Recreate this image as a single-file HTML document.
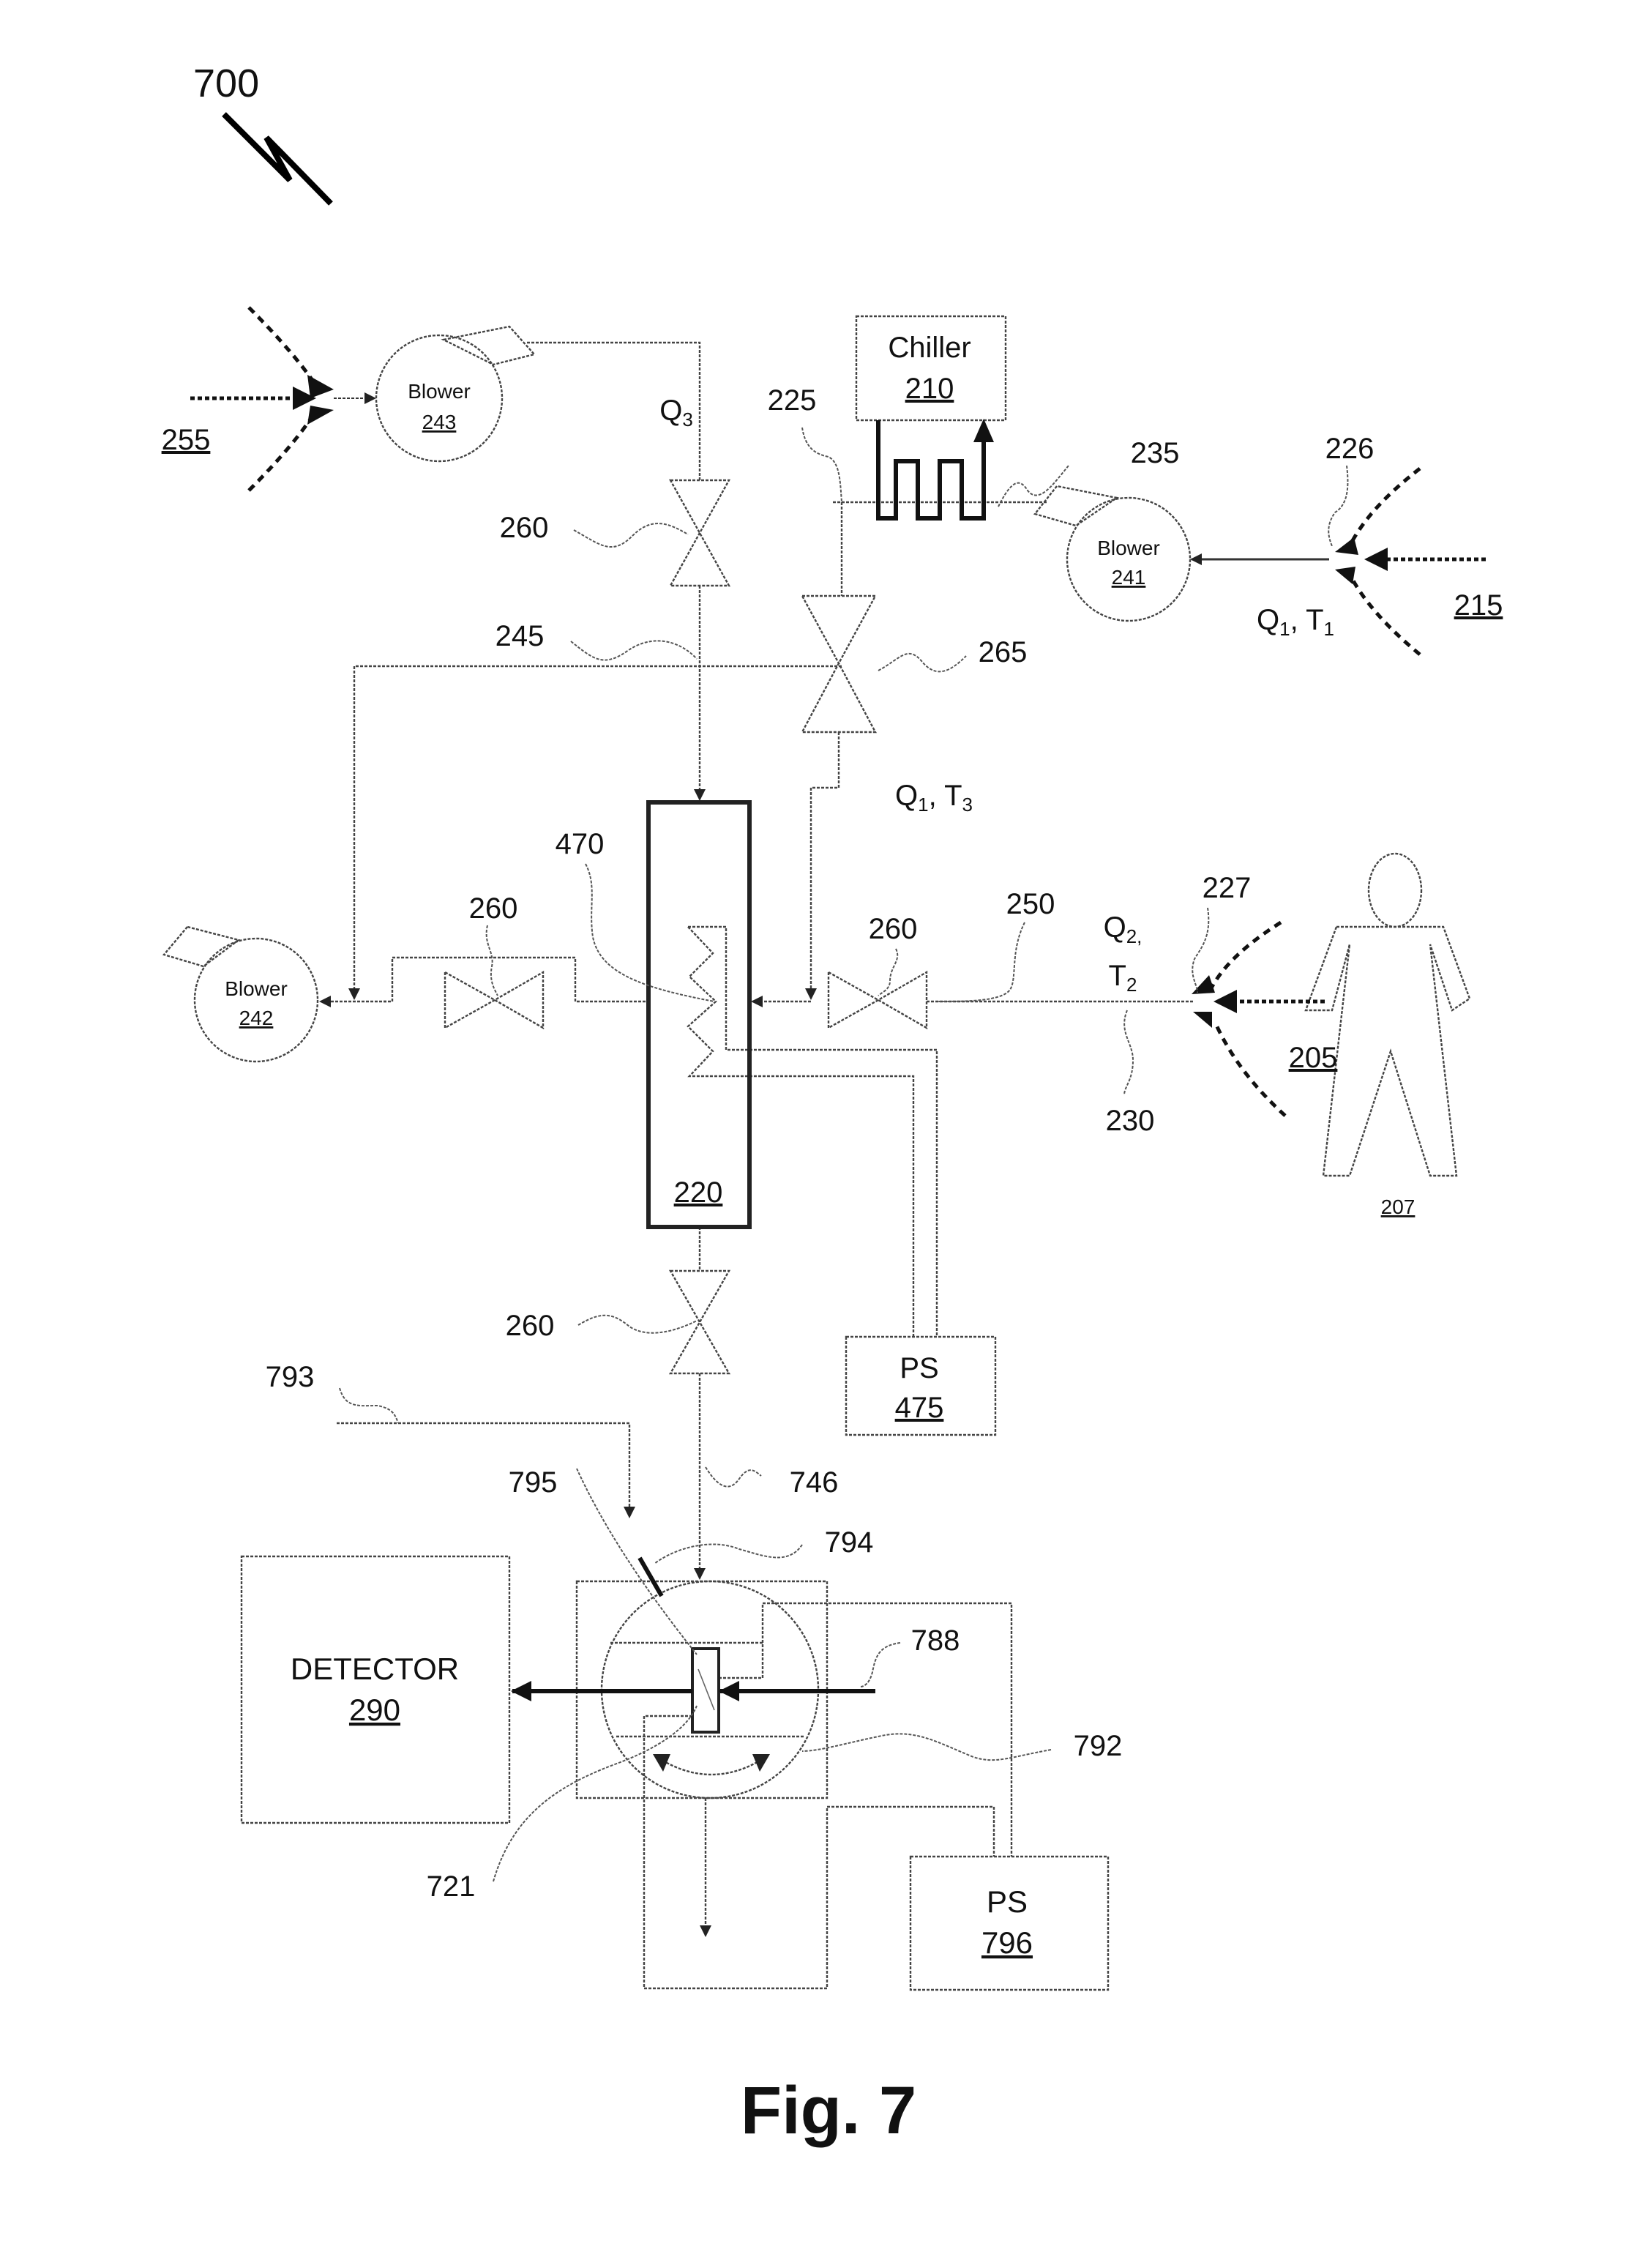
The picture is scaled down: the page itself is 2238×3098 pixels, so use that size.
<!DOCTYPE html>
<html><head><meta charset="utf-8"><style>
html,body{margin:0;padding:0;background:#fff;}
svg{display:block;}
text{font-family:"Liberation Sans",sans-serif;fill:#111;}
</style></head><body>
<svg width="2238" height="3098" viewBox="0 0 1119 1549" xmlns="http://www.w3.org/2000/svg">
<defs>
<marker id="a" markerWidth="8" markerHeight="8" refX="7" refY="4" orient="auto" markerUnits="userSpaceOnUse"><path d="M0,0 L8,4 L0,8 z" fill="#222"/></marker>
<marker id="b" markerWidth="14" markerHeight="14" refX="13" refY="7" orient="auto" markerUnits="userSpaceOnUse"><path d="M0,0 L14,7 L0,14 z" fill="#111"/></marker>
</defs>
<rect width="1119" height="1549" fill="#fff"/>

<text x="132" y="66" font-size="27">700</text>
<polyline points="153,78 198,123 182,94 226,139" fill="none" stroke="#000" stroke-width="4"/>

<g fill="none" stroke="#444" stroke-width="1.2" stroke-dasharray="2,1">
<circle cx="300" cy="272" r="43"/>
<polygon points="303,232 348,223 365,242 337,249"/>
<polyline points="360,234 478,234 478,328"/>
<polygon points="458,328 498,328 478,364 458,400 498,400 478,364"/>
<line x1="478" y1="400" x2="478" y2="546" marker-end="url(#a)"/>
<rect x="585" y="216" width="102" height="71"/>
<line x1="569" y1="343" x2="715" y2="343"/>
<line x1="575" y1="343" x2="575" y2="407"/>
<polygon points="548,407 598,407 573,453 548,500 598,500 573,453"/>
<polyline points="573,500 573,538 554,538 554,682" marker-end="url(#a)"/>
<line x1="554" y1="684" x2="514" y2="684" marker-end="url(#a)"/>
<circle cx="771" cy="382" r="42"/>
<polygon points="722,332 707,351 735,359 763,340"/>
<polyline points="575,455 242,455 242,682" marker-end="url(#a)"/>
<line x1="264" y1="684" x2="219" y2="684" marker-end="url(#a)"/>
<polyline points="262,684 268,684 268,654 393,654 393,684 443,684"/>
<polygon points="304,664 304,702 338,683 371,664 371,702 338,683"/>
<circle cx="175" cy="683" r="42"/>
<polygon points="128,633 112,652 139,660 163,642"/>
<polygon points="566,664 566,702 600,683 633,664 633,702 600,683"/>
<line x1="633" y1="684" x2="815" y2="684"/>
<polyline points="470,633 496,633 496,717 640,717 640,913"/>
<polyline points="470,633 487,651 471,667 489,684 470,701 487,718 471,735 624,735 624,913"/>
<rect x="578" y="913" width="102" height="67"/>
<line x1="478" y1="838" x2="478" y2="868"/>
<polygon points="458,868 498,868 478,903 458,938 498,938 478,903"/>
<line x1="478" y1="938" x2="478" y2="1078" marker-end="url(#a)"/>
<polyline points="230,972 430,972 430,1036" marker-end="url(#a)"/>
<rect x="165" y="1063" width="183" height="182"/>
<rect x="394" y="1080" width="171" height="148"/>
<circle cx="485" cy="1154" r="74"/>
<line x1="417" y1="1122" x2="521" y2="1122"/>
<line x1="421" y1="1186" x2="549" y2="1186"/>
<polyline points="473,1172 440,1172 440,1358 565,1358 565,1234 679,1234 679,1268"/>
<polyline points="491,1146 521,1146 521,1095 691,1095 691,1268"/>
<line x1="482" y1="1228" x2="482" y2="1322" marker-end="url(#a)"/>
<path d="M520,1202 Q486,1222 452,1202"/>
<rect x="622" y="1268" width="135" height="91"/>
<ellipse cx="953" cy="608" rx="18" ry="25"/>
<polygon points="913,633 986,633 1004,682 992,690 977,645 995,803 977,803 950,718 922,803 904,803 922,645 910,690 892,690"/>
</g>
<path d="M446,1198 L458,1198 L453,1210 z" fill="#222"/>
<path d="M514,1198 L526,1198 L519,1210 z" fill="#222"/>

<rect x="443" y="548" width="69" height="290" fill="none" stroke="#222" stroke-width="3"/>
<rect x="473" y="1126" width="18" height="57" fill="none" stroke="#222" stroke-width="2"/>
<line x1="477" y1="1140" x2="488" y2="1168" stroke="#666" stroke-width="0.8"/>
<path d="M600,287 V354 H612 V315 H627 V354 H642 V315 H657 V354 H672 V300" fill="none" stroke="#111" stroke-width="3"/>
<path d="M665,302 L672,286 L679,302 z" fill="#111"/>
<line x1="473" y1="1155" x2="350" y2="1155" stroke="#111" stroke-width="3" marker-end="url(#b)"/>
<line x1="598" y1="1155" x2="492" y2="1155" stroke="#111" stroke-width="3" marker-end="url(#b)"/>
<line x1="437" y1="1064" x2="452" y2="1090" stroke="#111" stroke-width="3"/>
<line x1="908" y1="382" x2="814" y2="382" stroke="#333" stroke-width="1.5" marker-end="url(#a)"/>

<g fill="none" stroke="#111" stroke-width="2.5" stroke-dasharray="5,4">
<path d="M170,210 Q200,240 215,262"/>
<path d="M170,335 Q200,305 215,282"/>
<line x1="130" y1="272" x2="205" y2="272" stroke-dasharray="3,2"/>
<path d="M970,320 Q935,347 922,373"/>
<path d="M970,447 Q935,418 922,392"/>
<line x1="1015" y1="382" x2="948" y2="382" stroke-dasharray="3,2"/>
<path d="M875,630 Q840,652 828,674"/>
<path d="M878,762 Q845,732 830,698"/>
<line x1="905" y1="684" x2="840" y2="684" stroke-dasharray="3,2"/>
</g>
<g fill="#111">
<path d="M200,264 L216,272 L200,280 z"/><path d="M210,256 L228,266 L212,272 z"/><path d="M212,277 L228,280 L210,290 z"/>
<line x1="228" y1="272" x2="256" y2="272" stroke="#333" stroke-dasharray="2,1" marker-end="url(#a)"/>
<path d="M948,374 L932,382 L948,390 z"/><path d="M925,367 L912,377 L928,379 z"/><path d="M926,387 L912,389 L924,399 z"/>
<path d="M845,676 L829,684 L845,692 z"/><path d="M826,666 L814,679 L830,678 z"/><path d="M828,691 L815,691 L828,702 z"/>
</g>

<g fill="none" stroke="#555" stroke-width="1" stroke-dasharray="2,1">
<path d="M392,362 C410,372 418,380 432,366 C446,352 458,358 470,365"/>
<path d="M390,438 C405,450 412,456 428,445 C446,432 465,438 476,450"/>
<path d="M600,458 C615,450 620,440 630,452 C640,464 650,458 660,448"/>
<path d="M548,292 C550,305 556,310 566,312 C574,316 574,330 575,343"/>
<path d="M682,346 C690,330 696,325 702,335 C710,345 720,330 730,318"/>
<path d="M920,318 C922,335 920,345 912,350 C905,360 908,368 910,373"/>
<path d="M333,632 C330,645 338,650 336,660 C334,670 338,676 340,680"/>
<path d="M400,590 C408,605 402,620 405,640 C410,665 440,675 488,684"/>
<path d="M612,648 C616,656 608,660 608,670 C608,676 602,678 600,680"/>
<path d="M700,630 C690,650 695,668 690,676 C684,684 660,684 640,684"/>
<path d="M825,620 C828,640 820,648 816,655 C812,666 818,672 818,678"/>
<path d="M770,690 C764,705 774,712 774,724 C774,738 768,742 768,748"/>
<path d="M395,905 C410,896 418,896 430,906 C442,914 460,910 476,902"/>
<path d="M232,948 C236,962 245,960 258,960 C268,962 270,966 272,972"/>
<path d="M482,1002 C490,1015 498,1020 505,1010 C512,1000 516,1005 520,1008"/>
<path d="M548,1055 C538,1070 520,1062 505,1058 C485,1050 460,1058 447,1068"/>
<path d="M615,1122 C600,1124 598,1132 596,1142 C594,1150 590,1152 588,1152"/>
<path d="M718,1195 C690,1200 680,1205 665,1200 C640,1190 625,1180 600,1186 C580,1190 560,1196 548,1196"/>
<path d="M337,1285 C350,1240 380,1220 420,1205 C450,1194 470,1180 476,1165"/>
<path d="M394,1003 Q420,1060 476,1130"/>
</g>

<g font-size="20" text-anchor="middle">
<text x="300" y="272" font-size="14">Blower</text>
<text x="300" y="293" font-size="14" text-decoration="underline">243</text>
<text x="771" y="379" font-size="14">Blower</text>
<text x="771" y="399" font-size="14" text-decoration="underline">241</text>
<text x="175" y="680" font-size="14">Blower</text>
<text x="175" y="700" font-size="14" text-decoration="underline">242</text>
<text x="635" y="244">Chiller</text>
<text x="635" y="272" text-decoration="underline">210</text>
<text x="127" y="307" text-decoration="underline">255</text>
<text x="462" y="287">Q<tspan font-size="13" dy="4">3</tspan></text>
<text x="541" y="280">225</text>
<text x="789" y="316">235</text>
<text x="922" y="313">226</text>
<text x="1010" y="420" text-decoration="underline">215</text>
<text x="885" y="430">Q<tspan font-size="13" dy="4">1</tspan><tspan dy="-4">, T</tspan><tspan font-size="13" dy="4">1</tspan></text>
<text x="358" y="367">260</text>
<text x="355" y="441">245</text>
<text x="685" y="452">265</text>
<text x="638" y="550">Q<tspan font-size="13" dy="4">1</tspan><tspan dy="-4">, T</tspan><tspan font-size="13" dy="4">3</tspan></text>
<text x="396" y="583">470</text>
<text x="337" y="627">260</text>
<text x="610" y="641">260</text>
<text x="704" y="624">250</text>
<text x="838" y="613">227</text>
<text x="767" y="640">Q<tspan font-size="13" dy="4">2,</tspan></text>
<text x="767" y="673">T<tspan font-size="13" dy="4">2</tspan></text>
<text x="897" y="729" text-decoration="underline">205</text>
<text x="772" y="772">230</text>
<text x="955" y="829" font-size="14" text-decoration="underline">207</text>
<text x="477" y="821" text-decoration="underline">220</text>
<text x="362" y="912">260</text>
<text x="628" y="941">PS</text>
<text x="628" y="968" text-decoration="underline">475</text>
<text x="198" y="947">793</text>
<text x="556" y="1019">746</text>
<text x="364" y="1019">795</text>
<text x="580" y="1060">794</text>
<text x="639" y="1127">788</text>
<text x="750" y="1199">792</text>
<text x="308" y="1295">721</text>
<text x="256" y="1147" font-size="21">DETECTOR</text>
<text x="256" y="1175" font-size="21" text-decoration="underline">290</text>
<text x="688" y="1306" font-size="21">PS</text>
<text x="688" y="1334" font-size="21" text-decoration="underline">796</text>
<text x="566" y="1457" font-size="46" font-weight="bold">Fig. 7</text>
</g>
</svg>
</body></html>
